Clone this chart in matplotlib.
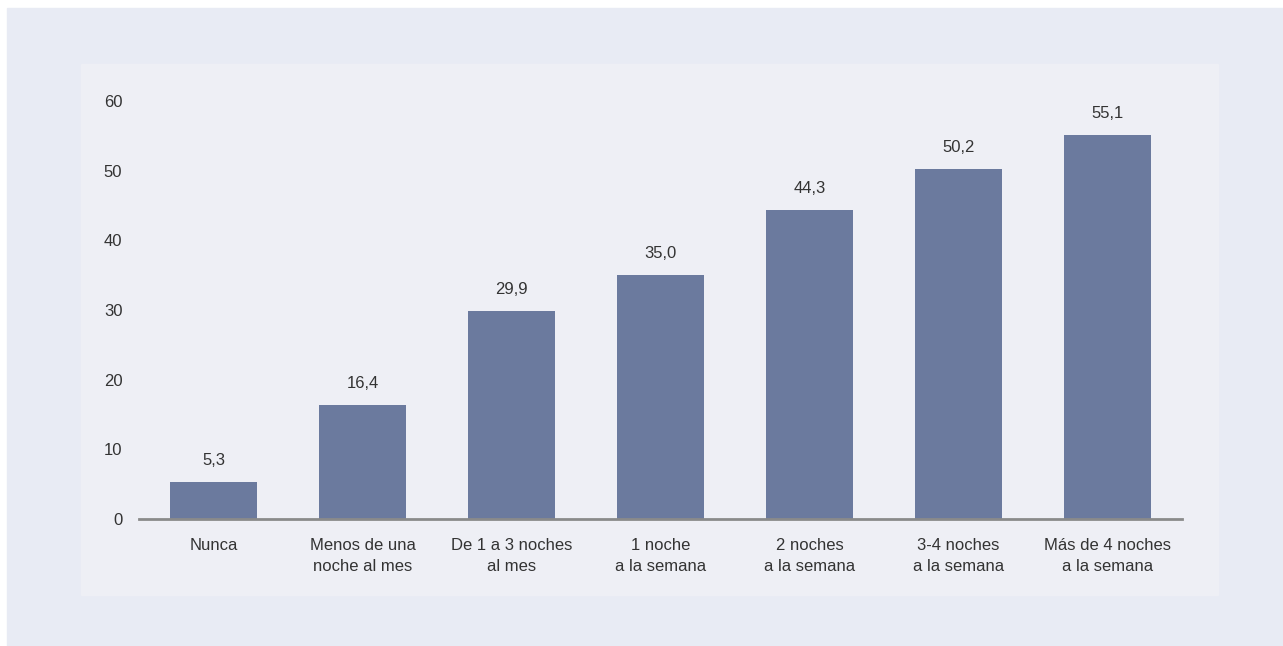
import matplotlib.pyplot as plt
from matplotlib.patches import Rectangle

categories = ["Nunca", "Menos de una\nnoche al mes", "De 1 a 3 noches\nal mes",
              "1 noche\na la semana", "2 noches\na la semana", "3-4 noches\na la semana",
              "Más de 4 noches\na la semana"]
values = [5.3, 16.4, 29.9, 35.0, 44.3, 50.2, 55.1]
yticks = [0, 10, 20, 30, 40, 50, 60]

W, H = 1283, 646
plt.rcParams['font.family'] = ['Liberation Sans', 'DejaVu Sans']

fig = plt.figure(figsize=(W / 100, H / 100), dpi=100)
fig.patch.set_facecolor('white')

def px_rect(x0, y0, x1, y1, color):
    fig.patches.append(Rectangle((x0 / W, 1 - y1 / H), (x1 - x0) / W, (y1 - y0) / H,
                                 transform=fig.transFigure, color=color, zorder=-2))

px_rect(7, 8, W, H, '#e8ebf4')
px_rect(81, 64, 1218, 595, '#eeeff5')

ax = fig.add_axes([139 / W, 1 - 519 / H, (1182 - 139) / W, (519 - 101) / H])
ax.set_zorder(2)
ax.set_facecolor('none')
x = range(len(values))
bars = ax.bar(x, values, width=0.58, color='#6b7a9e', zorder=2)
for xi, v in zip(x, values):
    ax.annotate(f"{v:.1f}".replace('.', ','), (xi, v), xytext=(0, 10),
                textcoords='offset points', ha='center', va='bottom',
                fontsize=12, color='#333333', annotation_clip=False)

ax.set_xlim(-0.5, len(values) - 0.5)
ax.set_ylim(0, 60)
ax.set_yticks(yticks)
ax.set_yticklabels([str(t) for t in yticks])
ax.set_xticks(list(x))
ax.set_xticklabels(categories, linespacing=1.45)
ax.tick_params(axis='both', length=0, labelsize=12, labelcolor='#333333')
ax.tick_params(axis='y', pad=12)
ax.tick_params(axis='x', pad=14)
for s in ['top', 'right', 'left']:
    ax.spines[s].set_visible(False)
ax.spines['bottom'].set_color('#8a8a8a')
ax.spines['bottom'].set_linewidth(2)
ax.spines['bottom'].set_zorder(3)

fig.savefig("out.png", dpi=100)
